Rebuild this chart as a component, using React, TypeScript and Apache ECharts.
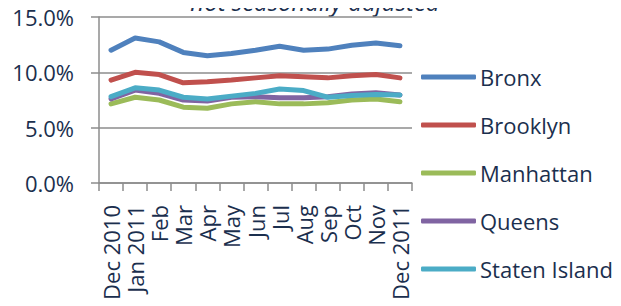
import React, { useEffect, useRef } from "react";
import * as echarts from "echarts";

const categories = ["Dec 2010", "Jan 2011", "Feb", "Mar", "Apr", "May", "Jun", "Jul", "Aug", "Sep", "Oct", "Nov", "Dec 2011"];
const bronx = [12.0, 13.1, 12.75, 11.8, 11.5, 11.7, 12.0, 12.35, 12.0, 12.1, 12.45, 12.65, 12.4];
const brooklyn = [9.3, 10.0, 9.8, 9.05, 9.15, 9.3, 9.5, 9.7, 9.6, 9.5, 9.7, 9.8, 9.5];
const manhattan = [7.15, 7.75, 7.5, 6.85, 6.75, 7.15, 7.35, 7.15, 7.15, 7.25, 7.5, 7.6, 7.35];
const queens = [7.6, 8.4, 8.1, 7.5, 7.4, 7.75, 7.8, 7.7, 7.7, 7.8, 8.05, 8.15, 7.95];
const statenIsland = [7.8, 8.6, 8.4, 7.75, 7.6, 7.85, 8.1, 8.5, 8.35, 7.75, 7.9, 8.0, 7.95];
const yTicks = [0, 5, 10, 15];

const seriesDefs = [
  { name: "Bronx", data: bronx, color: "#4F81BD" },
  { name: "Brooklyn", data: brooklyn, color: "#C0504D" },
  { name: "Manhattan", data: manhattan, color: "#9BBB59" },
  { name: "Queens", data: queens, color: "#8064A2" },
  { name: "Staten Island", data: statenIsland, color: "#4BACC6" },
];

const TEXT = "#1B2F4E";
const GRAY = "#8C8C8C";
const FONT = "'Open Sans', sans-serif";
const FS = 22;

export default function App() {
  const ref = useRef<HTMLDivElement>(null);
  useEffect(() => {
    if (!ref.current) return;
    const chart = echarts.init(ref.current, null, { renderer: "svg" });
    chart.setOption({
      animation: false,
      textStyle: { fontFamily: FONT },
      grid: { left: 99, right: 209, top: 17, bottom: 123, containLabel: false, outerBoundsMode: "none" },
      graphic: [
        {
          type: "text",
          x: 315,
          y: 13,
          style: {
            text: "not seasonally adjusted",
            fill: TEXT,
            font: `italic 24px ${FONT}`,
            textAlign: "center",
            textVerticalAlign: "bottom",
          },
        },
      ],
      legend: {
        orient: "vertical",
        left: 421,
        top: 64,
        padding: 0,
        icon: "roundRect",
        itemWidth: 55,
        itemHeight: 5,
        itemGap: 22,
        textStyle: { color: TEXT, fontSize: FS, lineHeight: 26, fontFamily: FONT, padding: [0, 0, 0, -1] },
        data: seriesDefs.map((s) => s.name),
      },
      xAxis: {
        type: "category",
        data: categories,
        boundaryGap: true,
        axisLine: { show: true, lineStyle: { color: GRAY, width: 1.5 } },
        axisTick: { show: true, length: 8, inside: false, lineStyle: { color: GRAY, width: 1.5 } },
        axisLabel: { rotate: 90, interval: 0, margin: 22, color: TEXT, fontSize: FS, fontFamily: FONT },
        splitLine: { show: false },
      },
      yAxis: {
        type: "value",
        min: 0,
        max: 15,
        interval: 5,
        axisLine: { show: true, lineStyle: { color: GRAY, width: 1.5 } },
        axisTick: { show: true, length: 8, lineStyle: { color: GRAY, width: 1.5 } },
        axisLabel: {
          margin: 25,
          color: TEXT,
          fontSize: FS,
          fontFamily: FONT,
          formatter: (v: number) => (yTicks.includes(v) ? v.toFixed(1) + "%" : ""),
        },
        splitLine: { show: true, lineStyle: { color: GRAY, width: 1.5 } },
      },
      series: seriesDefs.map((s) => ({
        name: s.name,
        type: "line",
        data: s.data,
        symbol: "none",
        color: s.color,
        lineStyle: { color: s.color, width: 5, cap: "round", join: "round" },
        itemStyle: { color: s.color },
      })),
    });
    return () => chart.dispose();
  }, []);
  return <div ref={ref} style={{ width: 621, height: 306, margin: -8 }} />;
}
